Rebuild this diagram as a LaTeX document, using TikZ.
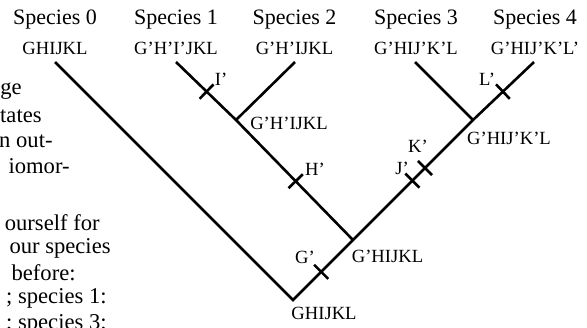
\documentclass[tikz,border=0pt]{standalone}
\usepackage{fontspec}
\setmainfont{Liberation Serif}
\usetikzlibrary{calc}
\begin{document}
\begin{tikzpicture}[x=0.5pt,y=-0.5pt,
  branch/.style={line width=1.3pt},
  species/.style={font=\fontsize{11}{13}\selectfont, inner sep=0pt},
  state/.style={font=\fontsize{9.3}{11}\selectfont, inner sep=0pt},
  body/.style={font=\fontsize{11.3}{13}\selectfont, inner sep=0pt, anchor=east},
]
\useasboundingbox (0,0) rectangle (587,327);
% body text fragments (cut at the left edge)
\node[body] (t1) at (22,91) {ge};
\node[body] (t2) at (42,116) {tates};
\node[body] (t3) at (53,141) {n out-};
\node[body] (t4) at (70,166) {iomor-};
\node[body] (t5) at (100,223) {ourself for};
\node[body] (t6) at (111,248) {our species};
\node[body] (t7) at (76,273) {before:};
\node[body] (t8) at (107,298) {; species 1:};
\node[body] (t9) at (107,324) {; species 3:};
% tree points
\coordinate (R) at (293,300);
\coordinate (A) at (353,240);
\coordinate (B) at (236,120);
\coordinate (C) at (473,120);
\coordinate (S0) at (55,62);
\coordinate (S1) at (176,62);
\coordinate (S2) at (295,62);
\coordinate (S3) at (415,62);
\coordinate (S4) at (534,62);
% top labels
\node[species] (n0) at (55,20) {Species 0};
\node[species] (n1) at (176,20) {Species 1};
\node[species] (n2) at (294.5,20) {Species 2};
\node[species] (n3) at (416,20) {Species 3};
\node[species] (n4) at (535,20) {Species 4};
\node[state] (s0) at (55,48) {GHIJKL};
\node[state] (s1) at (176,48) {G’H’I’JKL};
\node[state] (s2) at (294.5,48) {G’H’IJKL};
\node[state] (s3) at (416,48) {G’HIJ’K’L};
\node[state] (s4) at (535,48) {G’HIJ’K’L’};
% branches
\draw[branch] (S0) -- (R) -- (A) -- (C) -- (S4);
\draw[branch] (S1) -- (B) -- (A);
\draw[branch] (B) -- (S2);
\draw[branch] (C) -- (S3);
% tick positions
\path (R) -- (A) coordinate[pos=0.47] (tG);
\path (A) -- (B) coordinate[pos=0.49] (tH);
\path (A) -- (C) coordinate[pos=0.495] (tJ);
\path (A) -- (C) coordinate[pos=0.6] (tK);
\path (B) -- (S1) coordinate[pos=0.49] (tI);
\path (C) -- (S4) coordinate[pos=0.49] (tL);
\foreach \t/\e in {tG/A, tH/B, tJ/C, tK/C, tI/S1, tL/S4}
  \draw[branch] ($(\t)!5pt!90:(\e)$) -- ($(\t)!5pt!-90:(\e)$);
% tick labels
\node[state] (lI) at (221,79) {I’};
\node[state] (lH) at (315,169) {H’};
\node[state] (lJ) at (402,168) {J’};
\node[state] (lK) at (418,146) {K’};
\node[state] (lG) at (305,257) {G’};
\node[state] (lL) at (487,79) {L’};
% inner node labels
\node[state] (iB) at (289,123) {G’H’IJKL};
\node[state] (iA) at (387.5,256) {G’HIJKL};
\node[state] (iC) at (509,138) {G’HIJ’K’L};
\node[state] (iR) at (324,313) {GHIJKL};
\end{tikzpicture}
\end{document}
